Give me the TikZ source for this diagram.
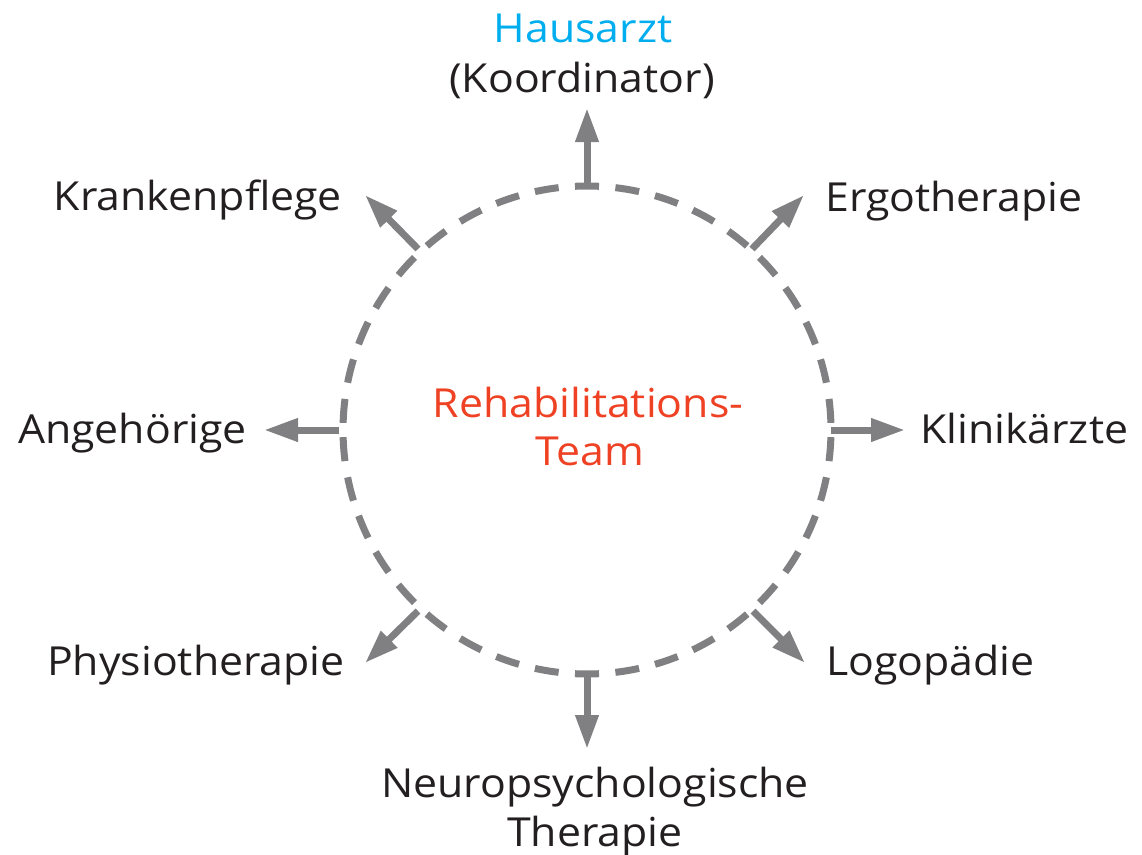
\documentclass[tikz,border=0pt]{standalone}
\usepackage{fontspec}
\setmainfont[FakeStretch=1.07]{Open Sans}
\usetikzlibrary{arrows.meta}
\definecolor{arrgray}{HTML}{808083}
\definecolor{txt}{HTML}{231F20}
\definecolor{hblue}{HTML}{00AEEF}
\definecolor{rred}{HTML}{EF4123}
\begin{document}
\begin{tikzpicture}[x=1pt,y=-1pt,
  lab/.style={font=\fontsize{40}{48}\selectfont, text=txt, inner sep=0pt},
  arr/.style={draw=arrgray, line width=7pt, -{Triangle[length=34pt,width=22pt]}},
  dsh/.style={draw=arrgray, line width=7pt}]
\useasboundingbox (0,0) rectangle (1142,854);
\coordinate (O) at (587,430);
% dashed circle
\foreach \a in {80.5,71,61.5,51.8,42.2,32.8,23.4,14,4.5}{
  \foreach \b in {\a,180-\a,-\a,180+\a}{
    \draw[dsh] ([shift={(\b-2.82:244pt)}]O) arc[start angle=\b-2.82, end angle=\b+2.82, radius=244pt];
  }
}
\foreach \b in {90,270}{
  \draw[dsh] ([shift={(\b-2.82:244pt)}]O) arc[start angle=\b-2.82, end angle=\b+2.82, radius=244pt];
}
% arrow coordinates
\coordinate (sN) at (587,189);  \coordinate (tN) at (587,108);
\coordinate (sS) at (587,671);  \coordinate (tS) at (587,749);
\coordinate (sE) at (831,430);  \coordinate (tE) at (905,430);
\coordinate (sW) at (339,430);  \coordinate (tW) at (264,430);
\coordinate (sNE) at (752,249); \coordinate (tNE) at (804,195);
\coordinate (sSE) at (753,611); \coordinate (tSE) at (805,663);
\coordinate (sNW) at (418,249); \coordinate (tNW) at (365,195);
\coordinate (sSW) at (418,611); \coordinate (tSW) at (365,663);
\foreach \d in {N,S,E,W,NE,SE,NW,SW}{
  \draw[arr] (s\d) -- (t\d);
}
% labels
\node[lab, text=hblue, anchor=base] (haus) at (583,42) {Hausarzt};
\node[lab, anchor=base] (koord) at (582,92) {(Koordinator)};
\node[lab, anchor=base east] (kranken) at (342,210) {Krankenpflege};
\node[lab, anchor=base west] (ergo) at (825,211) {Ergotherapie};
\node[lab, anchor=base east] (angeh) at (247,443) {Angehörige};
\node[lab, anchor=base west] (klinik) at (920,443) {Klinikärzte};
\node[lab, anchor=base east] (physio) at (345,675) {Physiotherapie};
\node[lab, anchor=base west] (logo) at (826,675) {Logopädie};
\node[lab, anchor=base] (neuro) at (595,797) {Neuropsychologische};
\node[lab, anchor=base] (thera) at (595,846) {Therapie};
\node[lab, text=rred, anchor=base] (rehab) at (588,417) {Rehabilitations-};
\node[lab, text=rred, anchor=base] (team) at (590,465) {Team};
\end{tikzpicture}
\end{document}
